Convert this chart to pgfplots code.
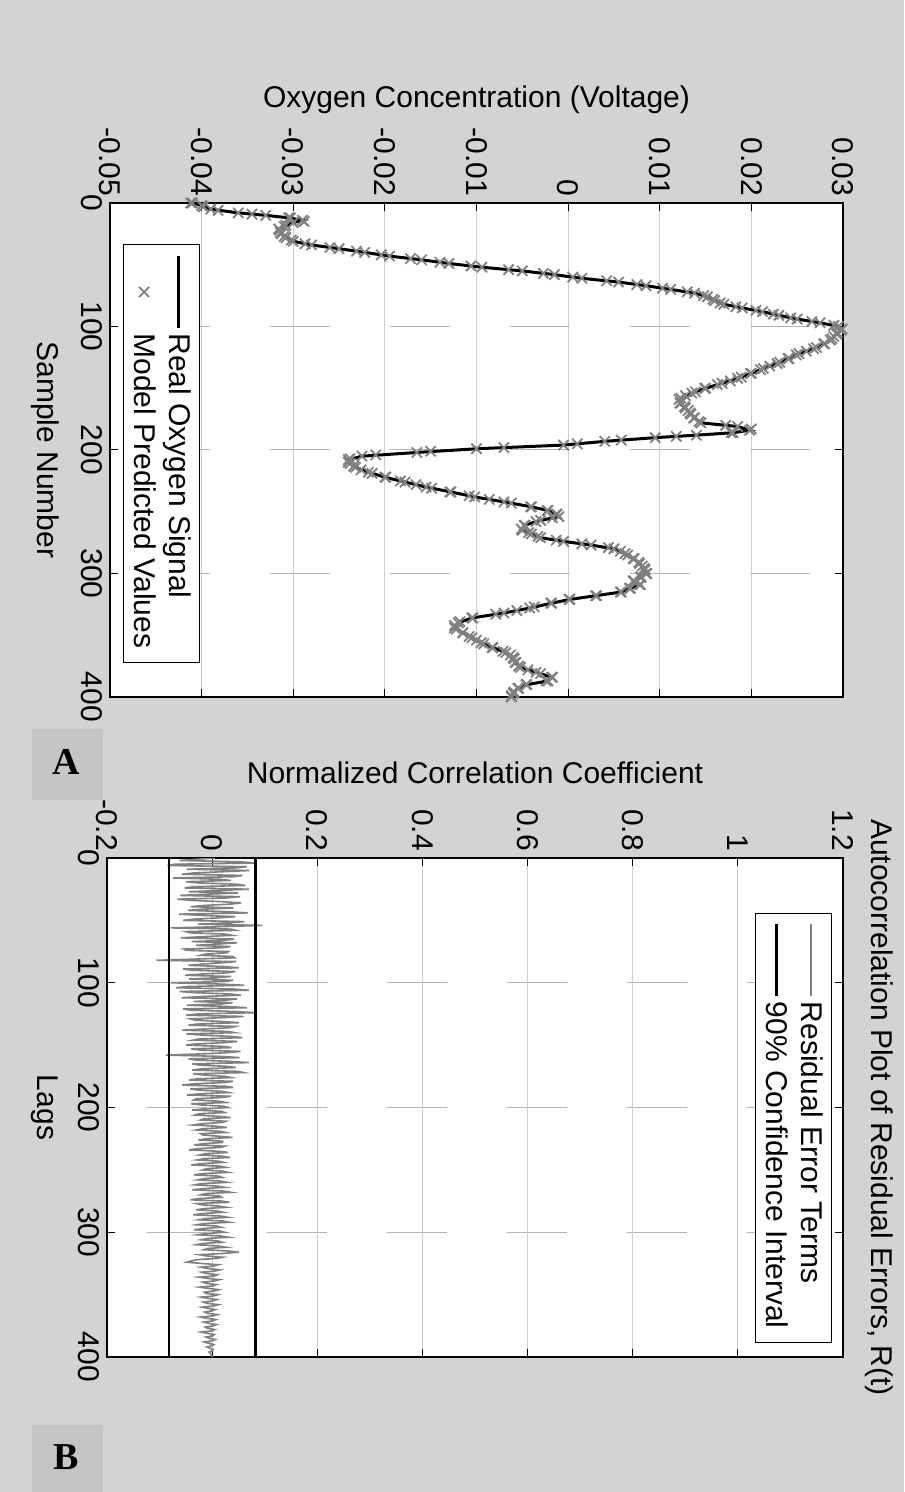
\documentclass[border=0pt]{standalone}
\usepackage{pgfplots}
\pgfplotsset{compat=1.18}
\usepackage{pgfplotstable}
\usepackage{fontspec}
\setmainfont{Liberation Sans}
\newfontfamily\serifbold{Liberation Serif}
\definecolor{bg}{RGB}{211,211,211}
\definecolor{lblbg}{RGB}{197,197,197}
\definecolor{mgray}{RGB}{128,128,128}
\definecolor{gridc}{RGB}{205,205,205}
\definecolor{gridd}{RGB}{180,180,180}

\pgfplotstableread{
s v
0 -0.0410
2 -0.0400
5 -0.0390
8 -0.0360
10 -0.0330
12 -0.0305
14 -0.0290
16 -0.0300
19 -0.0310
22 -0.0315
25 -0.0313
28 -0.0308
31 -0.0300
34 -0.0280
37 -0.0250
40 -0.0222
43 -0.0195
46 -0.0160
49 -0.0130
52 -0.0094
55 -0.0050
58 -0.0015
61 0.0015
64 0.0055
67 0.0085
70 0.0112
73 0.0138
76 0.0152
79 0.0160
82 0.0170
85 0.0190
88 0.0212
91 0.0230
94 0.0250
97 0.0275
100 0.0295
103 0.0298
106 0.0293
110 0.0288
114 0.0280
118 0.0268
122 0.0252
126 0.0240
130 0.0228
134 0.0213
138 0.0200
142 0.0185
146 0.0168
150 0.0150
154 0.0135
158 0.0123
162 0.0122
166 0.0128
170 0.0133
174 0.0138
178 0.0145
181 0.0185
184 0.0198
186 0.0180
188 0.0140
190 0.0095
193 0.0040
196 -0.0005
199 -0.0100
202 -0.0165
205 -0.0225
208 -0.0240
211 -0.0238
214 -0.0232
218 -0.0218
222 -0.0200
226 -0.0178
230 -0.0155
234 -0.0128
238 -0.0102
242 -0.0070
246 -0.0040
249 -0.0022
252 -0.0012
254 -0.0010
257 -0.0030
261 -0.0048
265 -0.0050
268 -0.0040
271 -0.0030
274 -0.0005
277 0.0025
280 0.0050
284 0.0062
288 0.0072
292 0.0078
296 0.0083
300 0.0085
303 0.0080
306 0.0072
309 0.0078
312 0.0068
315 0.0058
318 0.0030
321 0.0002
324 -0.0018
328 -0.0042
332 -0.0070
336 -0.0105
340 -0.0120
344 -0.0124
348 -0.0115
352 -0.0105
356 -0.0095
360 -0.0082
364 -0.0068
368 -0.0060
372 -0.0058
376 -0.0052
380 -0.0035
384 -0.0018
387 -0.0022
390 -0.0045
393 -0.0055
397 -0.0060
400 -0.0062
}\oxy

\pgfplotstableread{
s v
0 -0.0412
3 -0.0398
6 -0.0382
9 -0.0345
12 -0.0303
15 -0.0288
18 -0.0308
21 -0.0316
24 -0.0314
27 -0.0310
30 -0.0302
33 -0.0287
36 -0.0260
39 -0.0231
42 -0.0204
45 -0.0172
48 -0.0140
51 -0.0106
54 -0.0065
57 -0.0027
60 0.0005
63 0.0042
66 0.0075
69 0.0103
72 0.0130
75 0.0148
78 0.0158
81 0.0166
84 0.0183
87 0.0205
90 0.0224
93 0.0243
96 0.0266
99 0.0290
102 0.0299
105 0.0294
108 0.0290
111 0.0286
114 0.0279
117 0.0271
120 0.0260
123 0.0249
126 0.0241
129 0.0231
132 0.0220
135 0.0210
138 0.0199
141 0.0189
144 0.0177
147 0.0163
150 0.0149
153 0.0139
156 0.0128
159 0.0121
162 0.0123
165 0.0127
168 0.0131
171 0.0134
174 0.0137
177 0.0143
180 0.0172
183 0.0200
186 0.0178
189 0.0118
192 0.0058
195 0.0010
198 -0.0070
201 -0.0150
204 -0.0210
207 -0.0238
210 -0.0240
213 -0.0234
216 -0.0226
219 -0.0214
222 -0.0199
225 -0.0183
228 -0.0166
231 -0.0149
234 -0.0129
237 -0.0108
240 -0.0086
243 -0.0062
246 -0.0041
249 -0.0023
252 -0.0013
255 -0.0017
258 -0.0035
261 -0.0047
264 -0.0051
267 -0.0043
270 -0.0033
273 -0.0013
276 0.0015
279 0.0044
282 0.0057
285 0.0065
288 0.0071
291 0.0077
294 0.0081
297 0.0084
300 0.0086
303 0.0079
306 0.0071
309 0.0079
312 0.0067
315 0.0057
318 0.0031
321 0.0001
324 -0.0019
327 -0.0037
330 -0.0056
333 -0.0079
336 -0.0104
339 -0.0118
342 -0.0124
345 -0.0122
348 -0.0115
351 -0.0108
354 -0.0100
357 -0.0092
360 -0.0083
363 -0.0071
366 -0.0063
369 -0.0059
372 -0.0057
375 -0.0054
378 -0.0044
381 -0.0030
384 -0.0017
387 -0.0024
390 -0.0046
393 -0.0054
396 -0.0059
399 -0.0062
}\model

\pgfplotstableread{
lag r
0 0.005
1 -0.030
2 -0.062
3 0.052
4 0.081
5 -0.071
6 -0.085
7 0.066
8 0.044
9 -0.048
10 0.071
11 0.020
12 -0.035
13 -0.058
14 0.058
15 0.040
16 -0.074
17 0.012
18 0.036
19 -0.050
20 -0.025
21 0.047
22 0.063
23 -0.036
24 -0.052
25 0.070
26 0.018
27 -0.044
28 0.049
29 -0.010
30 -0.061
31 0.053
32 0.027
33 -0.066
34 -0.038
35 0.019
36 0.055
37 0.034
38 -0.014
39 -0.041
40 0.041
41 -0.018
42 -0.046
43 0.030
44 0.068
45 -0.063
46 -0.020
47 0.044
48 0.012
49 -0.035
50 -0.055
51 0.061
52 0.033
53 -0.027
54 0.095
55 0.020
56 -0.079
57 0.036
58 0.045
59 -0.050
60 -0.042
61 0.025
62 0.038
63 -0.015
64 -0.060
65 0.042
66 0.022
67 -0.039
68 0.047
69 0.010
70 -0.031
71 0.035
72 0.015
73 -0.054
74 -0.048
75 0.031
76 0.028
77 -0.012
78 -0.022
79 0.040
80 0.043
81 -0.030
82 -0.106
83 0.046
84 0.018
85 -0.017
86 -0.045
87 0.022
88 0.051
89 -0.055
90 -0.036
91 0.044
92 0.030
93 -0.019
94 -0.052
95 0.036
96 0.008
97 -0.044
98 0.040
99 0.025
100 -0.078
101 0.012
102 0.061
103 -0.045
104 -0.069
105 0.040
106 0.070
107 -0.062
108 -0.030
109 0.034
110 0.055
111 -0.020
112 -0.058
113 0.047
114 0.024
115 -0.035
116 0.039
117 0.018
118 -0.048
119 0.028
120 0.066
121 -0.055
122 -0.040
123 0.042
124 0.083
125 -0.027
126 -0.050
127 0.060
128 0.020
129 -0.041
130 -0.032
131 0.017
132 0.051
133 -0.026
134 -0.045
135 0.044
136 0.035
137 -0.012
138 -0.057
139 0.030
140 0.043
141 -0.049
142 -0.018
143 0.035
144 0.058
145 -0.024
146 -0.036
147 0.048
148 0.025
149 -0.030
150 -0.050
151 0.022
152 0.037
153 -0.040
154 -0.022
155 0.054
156 0.030
157 -0.020
158 -0.088
159 0.015
160 0.052
161 -0.045
162 -0.030
163 0.033
164 0.070
165 -0.038
166 -0.024
167 0.028
168 0.045
169 -0.020
170 -0.038
171 0.049
172 0.060
173 -0.036
174 -0.015
175 0.024
176 0.036
177 -0.028
178 -0.044
179 0.040
180 0.022
181 -0.035
182 -0.057
183 0.026
184 0.040
185 -0.042
186 -0.028
187 0.018
188 0.031
189 -0.024
190 -0.048
191 0.036
192 0.018
193 -0.030
194 -0.035
195 0.015
196 0.026
197 -0.040
198 -0.020
199 0.022
200 0.030
201 -0.012
202 -0.038
203 0.018
204 0.024
205 -0.025
206 -0.033
207 0.010
208 0.035
209 -0.015
210 -0.022
211 0.026
212 0.019
213 -0.020
214 -0.036
215 0.008
216 0.028
217 -0.018
218 -0.030
219 0.014
220 0.025
221 -0.022
222 -0.018
223 0.012
224 0.039
225 -0.010
226 -0.026
227 0.020
228 0.020
229 -0.016
230 -0.034
231 0.024
232 0.016
233 -0.028
234 -0.044
235 0.010
236 0.030
237 -0.012
238 -0.024
239 0.018
240 0.034
241 -0.015
242 -0.028
243 0.012
244 0.022
245 -0.020
246 -0.040
247 0.015
248 0.026
249 -0.010
250 -0.018
251 0.020
252 0.031
253 -0.018
254 -0.035
255 0.012
256 0.019
257 -0.014
258 -0.027
259 0.016
260 0.029
261 -0.020
262 -0.033
263 0.010
264 0.024
265 -0.016
266 -0.038
267 0.022
268 0.036
269 -0.012
270 -0.022
271 0.014
272 0.018
273 -0.025
274 -0.041
275 0.018
276 0.033
277 -0.030
278 -0.020
279 0.012
280 0.027
281 -0.014
282 -0.031
283 0.010
284 0.021
285 -0.018
286 -0.036
287 0.016
288 0.030
289 -0.012
290 -0.025
291 0.020
292 0.033
293 -0.015
294 -0.029
295 0.008
296 0.017
297 -0.016
298 -0.034
299 0.014
300 0.024
301 -0.012
302 -0.028
303 0.016
304 0.031
305 -0.010
306 -0.021
307 0.012
308 0.019
309 -0.018
310 -0.030
311 0.010
312 0.026
313 -0.008
314 -0.016
315 0.030
316 0.051
317 0.020
318 -0.024
319 -0.010
320 0.020
321 0.008
322 -0.030
323 -0.040
324 -0.048
325 -0.020
326 0.012
327 0.004
328 -0.022
329 -0.010
330 0.015
331 0.006
332 -0.020
333 -0.012
334 0.010
335 0.005
336 -0.025
337 -0.008
338 0.014
339 0.004
340 -0.018
341 -0.010
342 0.008
343 0.002
344 -0.024
345 -0.008
346 0.013
347 0.004
348 -0.015
349 -0.012
350 0.011
351 0.003
352 -0.021
353 -0.008
354 0.009
355 0.002
356 -0.017
357 -0.010
358 0.012
359 0.004
360 -0.019
361 -0.008
362 0.006
363 0.000
364 -0.014
365 -0.009
366 0.010
367 0.002
368 -0.022
369 -0.010
370 0.007
371 0.001
372 -0.016
373 -0.007
374 0.008
375 0.002
376 -0.013
377 -0.008
378 0.005
379 0.000
380 -0.021
381 -0.009
382 0.004
383 0.001
384 -0.012
385 -0.005
386 0.006
387 0.000
388 -0.015
389 -0.006
390 0.003
391 -0.001
392 -0.010
393 -0.004
394 0.002
395 0.000
396 -0.006
397 -0.003
398 -0.002
399 -0.001
400 0.000
}\resid

\pgfplotsset{
  matstyle/.style={
    scale only axis,
    font=\fontsize{15}{18}\selectfont,
    tick label style={font=\fontsize{15}{18}\selectfont},
    /pgf/number format/assume math mode=true,
    axis background/.style={fill=white},
    axis line style={black, line width=0.6pt},
    tick style={black, line width=0.5pt},
    major tick length=4pt,
    xmin=0, xmax=400, xtick={0,100,200,300,400},
    grid=major,
    major x grid style={gridd, line width=0.5pt, dash pattern=on 30pt off 30pt, dash phase=-20pt},
    major y grid style={gridc, line width=0.5pt},
    scaled ticks=false,
    legend cell align=left,
    legend image code/.code={\draw[mark repeat=2,mark phase=2,##1] plot coordinates {(0pt,0pt) (18pt,0pt) (36pt,0pt)};},
    legend style={draw=black, fill=white, line width=0.5pt, font=\fontsize{15}{18}\selectfont,
      inner xsep=5pt, inner ysep=2pt, row sep=1pt},
  }
}

\begin{document}
\begin{tikzpicture}[rotate=-90, transform shape]
\fill[bg] (0pt,0pt) rectangle (746pt,452pt);
\useasboundingbox (0pt,0pt) rectangle (746pt,452pt);

\begin{axis}[matstyle,
  at={(101.5pt,55pt)}, anchor=south west,
  width=247pt, height=366.5pt,
  ymin=-0.05, ymax=0.03,
  ytick={-0.05,-0.04,-0.03,-0.02,-0.01,0,0.01,0.02,0.03},
  yticklabels={-0.05,-0.04,-0.03,-0.02,-0.01,0,0.01,0.02,0.03},
  xlabel={Sample Number},
  ylabel={Oxygen Concentration (Voltage)},
  xlabel style={at={(axis description cs:0.5,-0.0887)}, anchor=center},
  ylabel style={at={(axis description cs:-0.2085,0.5)}, anchor=center},
  legend style={at={(axis description cs:0.083,0.018)}, anchor=south west},
]
\addplot[black, line width=1.5pt] table[x=s, y=v] {\oxy};
\addlegendentry{Real Oxygen Signal}
\addplot[only marks, mark=x, mark size=3.6pt, mgray, mark options={line width=0.9pt}] table[x=s, y=v] {\model};
\addlegendentry{Model Predicted Values}
\addplot[only marks, mark=x, mark size=3.6pt, mgray, mark options={line width=0.9pt}, forget plot] table[x=s, y=v] {\oxy};
\end{axis}

\begin{axis}[matstyle,
  at={(429pt,53.5pt)}, anchor=south west,
  width=249.5pt, height=368pt,
  ymin=-0.2, ymax=1.2,
  ytick={-0.2,0,0.2,0.4,0.6,0.8,1,1.2},
  yticklabels={-0.2,0,0.2,0.4,0.6,0.8,1,1.2},
  xlabel={Lags},
  ylabel={Normalized Correlation Coefficient},
  title={Autocorrelation Plot of Residual Errors, R(t)},
  xlabel style={at={(axis description cs:0.5,-0.0842)}, anchor=center},
  ylabel style={at={(axis description cs:-0.1703,0.5)}, anchor=center},
  title style={at={(axis description cs:0.5,1.0326)}, anchor=center},
  legend style={at={(axis description cs:0.972,0.985)}, anchor=north east},
]
\addplot[mgray, line width=0.8pt] table[x=lag, y=r] {\resid};
\addlegendentry{Residual Error Terms}
\addplot[black, line width=1.2pt] coordinates {(0,0.0823) (400,0.0823)};
\addlegendentry{90\% Confidence Interval}
\addplot[black, line width=1.2pt, forget plot] coordinates {(0,-0.0823) (400,-0.0823)};
\end{axis}

\fill[lblbg] (364.5pt,16pt) rectangle (400pt,51.5pt);
\node[rotate=90, font=\serifbold\bfseries\fontsize{19}{20}\selectfont] at (381pt,33pt) {A};
\fill[lblbg] (712.5pt,16pt) rectangle (746pt,51.5pt);
\node[rotate=90, font=\serifbold\bfseries\fontsize{19}{20}\selectfont] at (728.5pt,33pt) {B};
\end{tikzpicture}
\end{document}
